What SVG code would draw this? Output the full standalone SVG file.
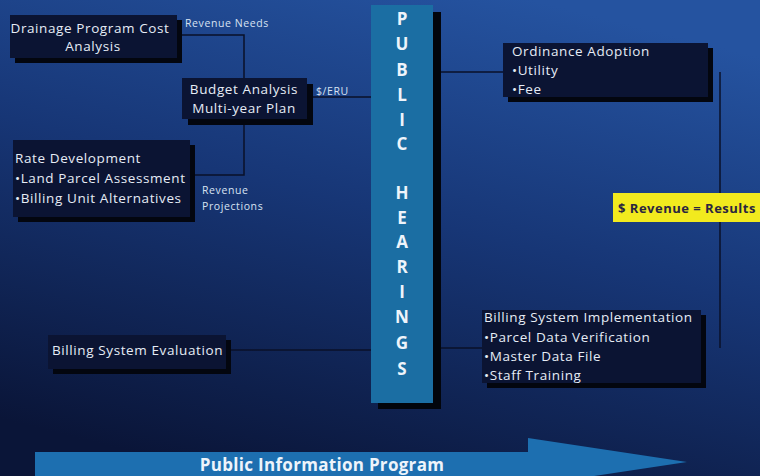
<svg xmlns="http://www.w3.org/2000/svg" width="760" height="476" viewBox="0 0 760 476">
<defs>
<linearGradient id="bg" x1="0.7" y1="0" x2="0.3" y2="1">
<stop offset="0" stop-color="#2553a0"/>
<stop offset="0.45" stop-color="#173676"/>
<stop offset="1" stop-color="#0a1538"/>
</linearGradient>
<style>
.box{fill:#0b1433;}
.sh{fill:#03060f;}
.t{font-family:"Open Sans","Liberation Sans",sans-serif;font-size:13.5px;letter-spacing:0.6px;fill:#e6ecf6;}
.s{font-family:"Open Sans","Liberation Sans",sans-serif;font-size:10.5px;letter-spacing:0.6px;fill:#d8e2f2;}
.bar{font-family:"Open Sans","Liberation Sans",sans-serif;font-size:17px;font-weight:bold;fill:#eef4fb;text-anchor:middle;}
.ln{stroke:#0a1028;stroke-width:1.5;fill:none;}
</style>
</defs>
<rect width="760" height="476" fill="url(#bg)"/>

<g id="connectors">
<polyline class="ln" points="182,35 244,35 244,78"/>
<polyline class="ln" points="244,125 244,175 190,175"/>
<line class="ln" x1="313" y1="97" x2="372" y2="97"/>
<line class="ln" x1="440" y1="72" x2="503" y2="72"/>
<line class="ln" x1="720" y1="72" x2="720" y2="348"/>
<line class="ln" x1="230" y1="350" x2="372" y2="350"/>
<line class="ln" x1="440" y1="348" x2="482" y2="348"/>
<text class="s" x="185" y="27">Revenue Needs</text>
<text class="s" x="316" y="95">$/ERU</text>
<text class="s" x="202" y="194">Revenue</text>
<text class="s" x="202" y="210">Projections</text>
</g>

<g id="public-hearings">
<rect x="378" y="12" width="63" height="397" fill="#02050c"/>
<rect x="371" y="5" width="62" height="398" fill="#1b6ea3"/>
<text class="bar" x="402" y="25">P</text>
<text class="bar" x="402" y="50">U</text>
<text class="bar" x="402" y="76">B</text>
<text class="bar" x="402" y="101">L</text>
<text class="bar" x="402" y="126">I</text>
<text class="bar" x="402" y="150">C</text>
<text class="bar" x="402" y="199">H</text>
<text class="bar" x="402" y="224">E</text>
<text class="bar" x="402" y="248">A</text>
<text class="bar" x="402" y="273">R</text>
<text class="bar" x="402" y="298">I</text>
<text class="bar" x="402" y="323">N</text>
<text class="bar" x="402" y="349">G</text>
<text class="bar" x="402" y="375">S</text>
</g>

<g id="drainage">
<rect class="sh" x="15" y="20" width="167" height="43"/>
<rect class="box" x="10" y="15" width="167" height="43"/>
<text class="t" x="90" y="33" text-anchor="middle">Drainage Program Cost</text>
<text class="t" x="93" y="51" text-anchor="middle">Analysis</text>
</g>

<g id="budget">
<rect class="sh" x="188" y="84" width="125" height="41"/>
<rect class="box" x="182" y="78" width="125" height="41"/>
<text class="t" x="244" y="94" text-anchor="middle">Budget Analysis</text>
<text class="t" x="244" y="113" text-anchor="middle">Multi-year Plan</text>
</g>

<g id="rate">
<rect class="sh" x="18" y="145" width="177" height="77"/>
<rect class="box" x="13" y="140" width="177" height="77"/>
<text class="t" x="15" y="163">Rate Development</text>
<text class="t" x="15" y="183">•Land Parcel Assessment</text>
<text class="t" x="15" y="203">•Billing Unit Alternatives</text>
</g>

<g id="evaluation">
<rect class="sh" x="53" y="340" width="178" height="34"/>
<rect class="box" x="48" y="335" width="178" height="34"/>
<text class="t" x="52" y="355">Billing System Evaluation</text>
</g>

<g id="ordinance">
<rect class="sh" x="508" y="48" width="205" height="54"/>
<rect class="box" x="503" y="43" width="205" height="54"/>
<text class="t" x="512" y="56">Ordinance Adoption</text>
<text class="t" x="512" y="75">•Utility</text>
<text class="t" x="512" y="94">•Fee</text>
</g>

<g id="implementation">
<rect class="sh" x="487" y="315" width="219" height="73"/>
<rect class="box" x="482" y="310" width="219" height="73"/>
<text class="t" x="484" y="322">Billing System Implementation</text>
<text class="t" x="484" y="342">•Parcel Data Verification</text>
<text class="t" x="484" y="361">•Master Data File</text>
<text class="t" x="484" y="380">•Staff Training</text>
</g>

<g id="revenue">
<rect x="613" y="193" width="150" height="29" fill="#f2ea1e"/>
<text x="618" y="213" font-family="Open Sans, Liberation Sans, sans-serif" font-size="13" letter-spacing="0.5" font-weight="bold" fill="#2a2540">$ Revenue = Results</text>
</g>

<g id="public-information">
<polygon points="35,452 528,452 528,438 687,462 528,486 528,480 35,480" fill="#1d6fb0"/>
<text x="322" y="471" text-anchor="middle" font-family="Open Sans, Liberation Sans, sans-serif" font-size="17" letter-spacing="0.3" font-weight="bold" fill="#eef4fb">Public Information Program</text>
</g>
</svg>
